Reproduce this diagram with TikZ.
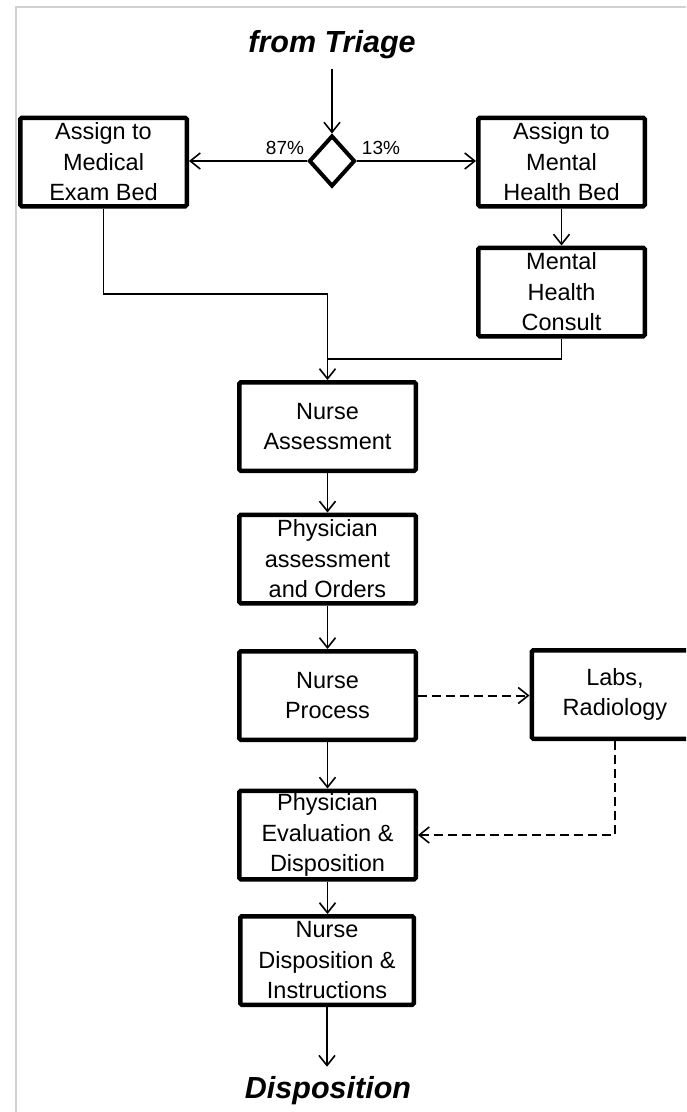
\documentclass[tikz,border=0pt]{standalone}
\usepackage{fontspec}
\setmainfont{Liberation Sans}
\usetikzlibrary{shapes.geometric,arrows.meta}
\begin{document}
\begin{tikzpicture}[x=1pt,y=-1pt,
  box/.style={draw, line width=4.5pt, rounded corners=1.5pt, inner sep=0pt,
    align=center, minimum height=88.5pt,
    font=\fontsize{23.5}{30.5}\selectfont},
  wbox/.style={box, minimum width=166.5pt},
  cbox/.style={box, minimum width=176.5pt},
  arr/.style={line width=1.6pt, -{Straight Barb[length=10pt,width=16pt,line width=1.6pt]}},
  darr/.style={arr, dashed, dash pattern=on 9pt off 5pt, line width=2pt},
  pct/.style={font=\fontsize{19}{22}\selectfont, inner sep=0pt},
  title/.style={font=\fontsize{30.5}{36}\selectfont\bfseries\itshape, inner sep=0pt, anchor=base}
]
\clip (0,0) rectangle (686,1112);
\fill[white] (0,0) rectangle (686,1112);
% partial frame
\draw[black!18, line width=1.5pt] (686,7) -- (16,7) -- (16,1112);

% nodes
\node[title] (triage) at (332,52) {from Triage};
\node[draw, diamond, line width=4pt, minimum width=46pt, minimum height=51pt,
      inner sep=0pt] (dia) at (332,161) {};
\node[pct] (p87) at (285,148) {87\%};
\node[pct] (p13) at (381,148) {13\%};

\node[wbox] (medbed) at (103.5,162) {Assign to\\Medical\\Exam Bed};
\node[wbox] (mhbed) at (561.5,162) {Assign to\\Mental\\Health Bed};
\node[wbox] (consult) at (561.5,292) {Mental\\Health\\Consult};

\node[cbox] (nassess) at (327.5,426.5) {Nurse\\Assessment};
\node[cbox] (passess) at (327.5,559) {Physician\\assessment\\and Orders};
\node[cbox] (nproc) at (327.5,695.5) {Nurse\\Process};
\node[wbox] (labs) at (615,694.5) {Labs,\\Radiology};
\node[cbox] (peval) at (327.5,835) {Physician\\Evaluation \&\\Disposition};
\node[cbox, minimum width=173.5pt] (ndisp) at (327,960.5) {Nurse\\Disposition \&\\Instructions};

\node[title] (disp) at (328,1098) {Disposition};

\coordinate (j) at (327.5,294);
\coordinate (k) at (327.5,359);

% connectors
\draw[arr, shorten <=10pt] (triage.south) -- (dia.north);
\draw[arr] (dia.west) -- (dia.west -| medbed.east);
\draw[arr] (dia.east) -- (dia.east -| mhbed.west);
\draw[arr] (mhbed.south) -- (consult.north);
\draw[arr] (medbed.south) |- (j) -- (nassess.north);
\draw[line width=1.6pt] (consult.south) |- (k);
\draw[arr] (nassess.south) -- (passess.north);
\draw[arr] (passess.south) -- (nproc.north);
\draw[darr] (nproc.east) -- (nproc.east -| labs.west);
\draw[arr] (nproc.south) -- (peval.north);
\draw[darr, line width=1.6pt] (labs.south) |- (peval.east);
\draw[arr] (peval.south) -- (peval.south |- ndisp.north);
\draw[arr, shorten >=9pt] (ndisp.south) -- (ndisp.south |- disp.north);
\end{tikzpicture}
\end{document}
